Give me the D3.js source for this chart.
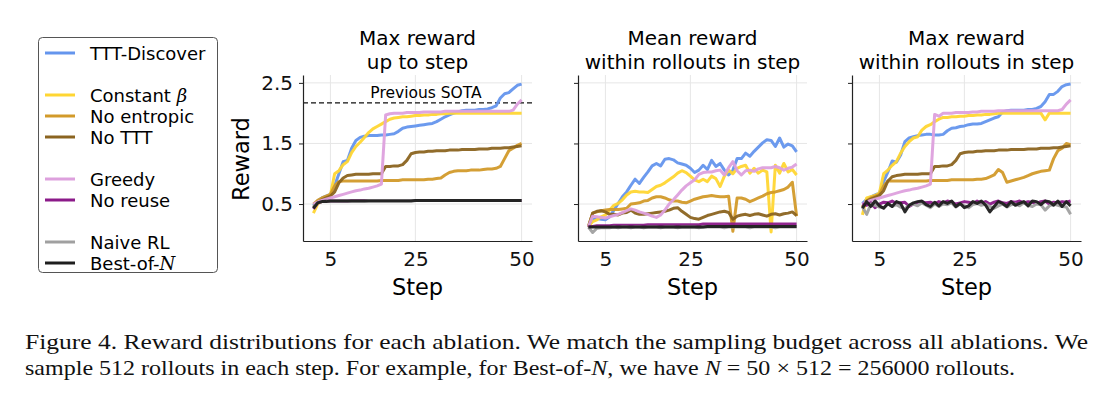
<!DOCTYPE html>
<html>
<head>
<meta charset="utf-8">
<script src="https://cdn.jsdelivr.net/npm/d3@7"></script>
<style>
  body { margin: 0; background: #fff; }
  svg { display: block; }
  .tick text { font-family: "DejaVu Sans", sans-serif; }
</style>
</head>
<body>
<div id="content"></div>
<script>
// steps and tick labels
var steps = d3.range(1, 51);
var xTicks = [5, 25, 50];
var yTicks = [0.5, 1.5, 2.5];
var panelTitles = [["Max reward", "up to step"], ["Mean reward", "within rollouts in step"], ["Max reward", "within rollouts in step"]];
var sotaValue = 2.17;

// --- panel 1: max reward up to step
var cumTTT = [0.47,0.55,0.6,0.63,0.66,0.8,1.0,1.2,1.22,1.42, 1.55,1.6,1.62,1.63,1.63,1.63,1.64,1.64,1.65,1.66, 1.7,1.75,1.77,1.78,1.79,1.8,1.81,1.82,1.83,1.86, 1.9,1.94,1.97,2.0,2.02,2.04,2.05,2.05,2.05,2.06, 2.06,2.07,2.09,2.12,2.25,2.32,2.34,2.4,2.46,2.48];
var cumConst = [0.35,0.5,0.55,0.6,0.65,1.0,1.05,1.15,1.2,1.35, 1.45,1.52,1.6,1.68,1.74,1.78,1.82,1.86,1.9,1.92, 1.93,1.94,1.94,1.95,1.96,1.96,1.97,1.97,1.98,1.98, 1.99,1.99,2.0,2.0,2.0,2.0,2.0,2.0,2.0,2.0, 2.0,2.0,2.0,2.0,2.0,2.0,2.0,2.0,2.0,2.0];
var cumNoEnt = [0.5,0.56,0.6,0.63,0.66,0.8,0.87,0.88,0.88,0.88, 0.88,0.88,0.88,0.88,0.88,0.88,0.89,0.89,0.89,0.89, 0.89,0.9,0.9,0.9,0.9,0.9,0.9,0.91,0.91,0.92, 0.93,0.98,1.02,1.04,1.05,1.05,1.05,1.06,1.06,1.06, 1.07,1.08,1.08,1.09,1.12,1.25,1.38,1.42,1.47,1.5];
var cumNoTTT = [0.45,0.52,0.57,0.6,0.63,0.7,0.85,0.93,0.97,0.98, 0.99,0.99,0.99,0.99,1.0,1.0,1.0,1.12,1.12,1.13, 1.13,1.15,1.22,1.33,1.35,1.36,1.36,1.37,1.37,1.38, 1.38,1.38,1.39,1.39,1.39,1.4,1.4,1.4,1.4,1.41, 1.41,1.41,1.42,1.42,1.42,1.43,1.43,1.44,1.45,1.46];
var cumGreedy = [0.5,0.53,0.56,0.58,0.6,0.62,0.64,0.66,0.68,0.7, 0.72,0.73,0.75,0.76,0.78,0.8,0.83,1.97,1.99,2.0, 2.0,2.0,2.01,2.01,2.01,2.01,2.02,2.02,2.02,2.02, 2.02,2.03,2.03,2.03,2.03,2.03,2.03,2.03,2.03,2.03, 2.03,2.03,2.03,2.03,2.03,2.03,2.03,2.05,2.15,2.22];
var cumNoReuse = [0.42,0.52,0.54,0.55,0.55,0.55,0.55,0.55,0.55,0.56, 0.56,0.56,0.56,0.56,0.56,0.56,0.56,0.56,0.56,0.56, 0.56,0.56,0.56,0.56,0.56,0.56,0.56,0.56,0.56,0.56, 0.56,0.56,0.56,0.56,0.56,0.56,0.56,0.56,0.56,0.56, 0.56,0.56,0.56,0.56,0.56,0.56,0.56,0.56,0.56,0.56];
var cumNaive = [0.44,0.52,0.54,0.55,0.55,0.55,0.55,0.55,0.55,0.55, 0.55,0.55,0.55,0.56,0.56,0.56,0.56,0.56,0.56,0.56, 0.56,0.56,0.56,0.56,0.56,0.56,0.56,0.56,0.56,0.56, 0.56,0.56,0.56,0.56,0.56,0.56,0.56,0.56,0.56,0.56, 0.56,0.56,0.56,0.56,0.56,0.56,0.56,0.56,0.56,0.56];
var cumBest = [0.43,0.52,0.54,0.54,0.55,0.55,0.55,0.55,0.55,0.55, 0.55,0.55,0.55,0.55,0.55,0.55,0.55,0.55,0.55,0.55, 0.55,0.55,0.55,0.55,0.56,0.56,0.56,0.56,0.56,0.56, 0.56,0.56,0.56,0.56,0.56,0.56,0.56,0.56,0.56,0.56, 0.56,0.56,0.56,0.56,0.56,0.56,0.56,0.56,0.56,0.56];

// --- panel 2: mean reward within rollouts in step
var meanTTT = [0.125,0.24,0.26,0.25,0.24,0.29,0.40,0.51,0.62,0.70, 0.81,0.91,0.84,0.94,1.03,1.13,1.17,1.13,1.24,1.25, 1.23,1.18,1.16,1.14,1.09,1.02,1.06,1.14,1.07,1.22, 1.12,1.17,1.06,0.98,1.06,1.25,1.25,1.34,1.29,1.37, 1.44,1.51,1.56,1.55,1.45,1.59,1.44,1.49,1.46,1.36];
var meanConst = [0.125,0.21,0.24,0.29,0.32,0.40,0.48,0.51,0.57,0.65, 0.70,0.71,0.70,0.70,0.69,0.74,0.79,0.81,0.85,0.90, 0.95,1.01,1.05,1.02,0.96,0.90,0.87,0.91,0.87,0.96, 0.92,0.79,0.96,1.06,1.0,1.09,1.12,1.14,1.01,1.09, 1.01,1.06,1.03,0.04,1.14,1.01,1.17,1.03,1.07,0.98];
var meanNoEnt = [0.125,0.35,0.37,0.39,0.4,0.41,0.41,0.41,0.42,0.43, 0.5,0.51,0.52,0.55,0.56,0.6,0.62,0.62,0.6,0.57, 0.55,0.55,0.53,0.52,0.55,0.58,0.6,0.62,0.63,0.64, 0.63,0.62,0.62,0.63,0.05,0.6,0.6,0.58,0.54,0.57, 0.6,0.63,0.67,0.69,0.7,0.72,0.74,0.78,0.86,0.3];
var meanNoTTT = [0.125,0.35,0.38,0.39,0.37,0.33,0.33,0.32,0.35,0.36, 0.4,0.35,0.33,0.33,0.34,0.35,0.36,0.37,0.38,0.4, 0.43,0.44,0.38,0.33,0.28,0.26,0.25,0.28,0.31,0.33, 0.35,0.37,0.38,0.36,0.25,0.3,0.32,0.33,0.31,0.33, 0.34,0.32,0.3,0.33,0.34,0.32,0.34,0.35,0.37,0.31];
var meanGreedy = [0.125,0.3,0.29,0.28,0.27,0.29,0.31,0.33,0.36,0.39, 0.42,0.4,0.37,0.35,0.33,0.3,0.28,0.32,0.4,0.5, 0.57,0.65,0.73,0.8,0.85,0.9,0.99,1.02,1.03,1.03, 1.05,1.06,0.98,1.1,1.2,1.05,0.98,1.05,1.06,1.04, 1.08,1.1,1.1,1.1,1.12,1.1,1.06,1.09,1.11,1.16];
var meanNoReuse = [0.12,0.13,0.14,0.14,0.14,0.14,0.15,0.15,0.15,0.15, 0.15,0.15,0.15,0.15,0.16,0.16,0.16,0.16,0.16,0.16, 0.16,0.16,0.16,0.16,0.16,0.16,0.16,0.17,0.17,0.17, 0.17,0.17,0.17,0.17,0.17,0.17,0.17,0.17,0.17,0.17, 0.17,0.17,0.17,0.17,0.17,0.17,0.17,0.17,0.17,0.17];
var meanNaive = [0.12,0.03,0.1,0.11,0.11,0.11,0.12,0.11,0.12,0.12, 0.11,0.12,0.12,0.11,0.12,0.12,0.12,0.11,0.12,0.12, 0.12,0.11,0.12,0.12,0.12,0.12,0.11,0.12,0.12,0.12, 0.12,0.12,0.11,0.12,0.12,0.12,0.12,0.12,0.11,0.12, 0.12,0.12,0.12,0.12,0.11,0.12,0.12,0.12,0.12,0.12];
var meanBest = [0.12,0.12,0.12,0.12,0.12,0.12,0.12,0.12,0.12,0.12, 0.12,0.12,0.12,0.12,0.12,0.12,0.12,0.12,0.12,0.12, 0.12,0.12,0.12,0.12,0.12,0.12,0.12,0.12,0.13,0.13, 0.13,0.13,0.13,0.13,0.13,0.13,0.13,0.13,0.13,0.13, 0.13,0.13,0.13,0.13,0.13,0.13,0.13,0.13,0.13,0.13];

// --- panel 3: max reward within rollouts in step
var stepTTT = [0.51,0.58,0.62,0.65,0.68,0.87,1.03,1.21,1.19,1.31, 1.53,1.59,1.61,1.63,1.64,1.65,1.65,1.64,1.64,1.65, 1.71,1.75,1.76,1.78,1.79,1.81,1.82,1.82,1.83,1.86, 1.89,1.92,1.94,2.02,2.04,2.05,2.05,2.05,2.05,2.06, 2.06,2.08,2.11,2.19,2.31,2.31,2.36,2.44,2.47,2.48];
var stepConst = [0.32,0.6,0.62,0.64,0.68,1.0,1.06,1.14,1.2,1.34, 1.45,1.53,1.59,1.61,1.72,1.78,1.81,1.86,1.9,1.93, 1.93,1.94,1.94,1.95,1.95,1.96,1.96,1.97,1.97,1.98, 1.98,1.99,2.0,2.0,2.0,2.0,2.0,2.0,2.0,2.0, 2.0,2.0,2.0,1.89,2.0,2.0,2.0,2.0,2.0,2.0];
var stepNoEnt = [0.45,0.55,0.6,0.63,0.66,0.8,0.88,0.88,0.88,0.88, 0.88,0.88,0.88,0.88,0.88,0.88,0.89,0.89,0.89,0.89, 0.89,0.9,0.9,0.9,0.9,0.9,0.9,0.91,0.91,0.92, 0.95,0.98,1.07,1.02,0.86,0.88,0.9,0.92,0.94,0.97, 1.0,1.02,1.04,1.05,1.06,1.25,1.38,1.42,1.5,1.48];
var stepNoTTT = [0.45,0.55,0.58,0.61,0.64,0.72,0.88,0.95,0.97,0.98, 0.99,0.99,0.99,0.99,1.0,1.0,1.0,1.12,1.12,1.13, 1.13,1.15,1.22,1.33,1.35,1.36,1.36,1.37,1.37,1.38, 1.38,1.38,1.39,1.39,1.39,1.4,1.4,1.4,1.4,1.41, 1.41,1.41,1.42,1.42,1.42,1.43,1.43,1.44,1.45,1.46];
var stepGreedy = [0.5,0.53,0.56,0.58,0.6,0.62,0.64,0.66,0.68,0.7, 0.72,0.73,0.75,0.76,0.78,0.8,0.83,1.98,1.95,2.0, 2.0,2.0,2.01,2.01,2.01,2.01,2.02,2.02,2.03,2.03, 2.03,2.03,2.04,2.04,2.04,2.04,2.04,2.04,2.04,2.04, 2.04,2.04,2.04,2.04,2.04,2.04,2.04,2.06,2.15,2.22];
var stepNoReuse = [0.5,0.48,0.52,0.44,0.5,0.53,0.52,0.55,0.51,0.52, 0.53,0.46,0.5,0.53,0.54,0.52,0.53,0.5,0.54,0.52, 0.55,0.53,0.5,0.52,0.54,0.53,0.51,0.55,0.52,0.54, 0.5,0.53,0.55,0.52,0.51,0.54,0.53,0.55,0.52,0.54, 0.53,0.51,0.54,0.55,0.5,0.53,0.52,0.54,0.53,0.55];
var stepNaive = [0.45,0.33,0.5,0.48,0.45,0.44,0.5,0.46,0.49,0.45, 0.42,0.48,0.5,0.47,0.52,0.48,0.44,0.5,0.46,0.5, 0.49,0.52,0.45,0.5,0.47,0.44,0.49,0.51,0.48,0.5, 0.46,0.43,0.47,0.5,0.45,0.49,0.5,0.47,0.52,0.48, 0.46,0.5,0.49,0.4,0.47,0.5,0.48,0.46,0.45,0.33];
var stepBest = [0.43,0.54,0.46,0.55,0.47,0.43,0.51,0.46,0.54,0.51, 0.37,0.48,0.52,0.54,0.55,0.49,0.46,0.53,0.47,0.54, 0.51,0.55,0.46,0.51,0.44,0.47,0.54,0.51,0.55,0.48, 0.37,0.46,0.54,0.51,0.46,0.54,0.48,0.51,0.54,0.47, 0.55,0.54,0.49,0.55,0.54,0.48,0.55,0.46,0.54,0.47];

// legend rows (null = spacer)
var legendNames = ["TTT-Discover", null, "Constant β", "No entropic", "No TTT", null, "Greedy", "No reuse", null, "Naive RL", "Best-of-N"];
var colors = {
  "TTT-Discover": "#6495ed",
  "Constant β": "#ffd633",
  "No entropic": "#d29a2a",
  "No TTT": "#8b6420",
  "Greedy": "#dda0dd",
  "No reuse": "#8b1a89",
  "Naive RL": "#a0a0a0",
  "Best-of-N": "#1e1e1e"
};

var panels = [
  {"TTT-Discover": cumTTT, "Constant β": cumConst, "No entropic": cumNoEnt, "No TTT": cumNoTTT, "Greedy": cumGreedy, "No reuse": cumNoReuse, "Naive RL": cumNaive, "Best-of-N": cumBest},
  {"TTT-Discover": meanTTT, "Constant β": meanConst, "No entropic": meanNoEnt, "No TTT": meanNoTTT, "Greedy": meanGreedy, "No reuse": meanNoReuse, "Naive RL": meanNaive, "Best-of-N": meanBest},
  {"TTT-Discover": stepTTT, "Constant β": stepConst, "No entropic": stepNoEnt, "No TTT": stepNoTTT, "Greedy": stepGreedy, "No reuse": stepNoReuse, "Naive RL": stepNaive, "Best-of-N": stepBest}
];
var drawOrder = ["TTT-Discover", "Constant β", "No entropic", "No TTT", "Greedy", "No reuse", "Naive RL", "Best-of-N"];

var W = 1103, H = 398;
var svg = d3.select("#content").append("svg")
  .attr("width", W)
  .attr("height", H);

var font = "DejaVu Sans, sans-serif";
var panelLeft = [303, 578, 852],
  panelW = 229,
  plotTop = 75,
  plotBottom = 241;

var y = d3.scaleLinear().domain([-0.11, 2.63]).range([plotBottom, plotTop]);

var line = function(x) {
  return d3.line()
    .x(function(d, i) { return x(steps[i]); })
    .y(function(d) { return y(d); });
};

panels.forEach(function(pdata, p) {
  var x = d3.scaleLinear().domain([-1.45, 52.45]).range([panelLeft[p], panelLeft[p] + panelW]);
  var g = svg.append("g");

  // grid
  g.selectAll(".vg").data(xTicks).enter().append("line")
    .attr("x1", function(d) { return x(d); }).attr("x2", function(d) { return x(d); })
    .attr("y1", plotTop).attr("y2", plotBottom)
    .attr("stroke", "#e6e6e6").attr("stroke-width", 1);
  g.selectAll(".hg").data(yTicks).enter().append("line")
    .attr("x1", x.range()[0]).attr("x2", x.range()[1])
    .attr("y1", function(d) { return y(d); }).attr("y2", function(d) { return y(d); })
    .attr("stroke", "#e6e6e6").attr("stroke-width", 1);

  // previous SOTA
  if (p === 0) {
    g.append("line")
      .attr("x1", x.range()[0]).attr("x2", x.range()[1])
      .attr("y1", y(sotaValue)).attr("y2", y(sotaValue))
      .attr("stroke", "#111").attr("stroke-width", 1.3)
      .attr("stroke-dasharray", "5,3");
    g.append("text")
      .attr("x", x(27.5)).attr("y", y(sotaValue) - 5)
      .attr("text-anchor", "middle")
      .style("font-family", font).style("font-size", "15.5px")
      .text("Previous SOTA");
  }

  // lines
  drawOrder.forEach(function(name) {
    g.append("path")
      .datum(pdata[name])
      .attr("fill", "none")
      .attr("stroke", colors[name])
      .attr("stroke-width", 3)
      .attr("stroke-opacity", 0.95)
      .attr("stroke-linejoin", "round")
      .attr("d", line(x));
  });

  // axes
  var xAxis = g.append("g")
    .attr("transform", "translate(0," + plotBottom + ")")
    .call(d3.axisBottom(x).tickValues(xTicks).tickSize(0).tickPadding(11));
  xAxis.select(".domain").attr("stroke", "#222").attr("stroke-width", 1.2);
  xAxis.selectAll("text").style("font-size", "20px").attr("fill", "#111");

  var yAxis = g.append("g")
    .attr("transform", "translate(" + panelLeft[p] + ",0)")
    .call(d3.axisLeft(y).tickValues(yTicks).tickSize(4).tickPadding(6).tickSizeOuter(0)
      .tickFormat(p === 0 ? d3.format(".1f") : ""));
  yAxis.select(".domain").attr("stroke", "#222").attr("stroke-width", 1.2);
  yAxis.selectAll(".tick line").attr("stroke", "#222");
  yAxis.selectAll("text").style("font-size", "20px").attr("fill", "#111");

  // titles
  var cx = panelLeft[p] + panelW / 2;
  panelTitles[p].forEach(function(t, k) {
    g.append("text")
      .attr("x", cx).attr("y", 45 + k * 24)
      .attr("text-anchor", "middle")
      .style("font-family", font).style("font-size", "20px")
      .text(t);
  });

  g.append("text")
    .attr("x", cx).attr("y", 295)
    .attr("text-anchor", "middle")
    .style("font-family", font).style("font-size", "22.5px")
    .text("Step");
});

// y label
svg.append("text")
  .attr("transform", "translate(249,159) rotate(-90)")
  .attr("text-anchor", "middle")
  .style("font-family", font).style("font-size", "22.5px")
  .text("Reward");

// legend
var leg = svg.append("g");
leg.append("rect")
  .attr("x", 38.5).attr("y", 37.5)
  .attr("width", 179).attr("height", 235)
  .attr("rx", 4)
  .attr("fill", "#fff").attr("stroke", "#555").attr("stroke-width", 1);

legendNames.forEach(function(name, i) {
  if (!name) return;
  var ly = 53 + i * 21;
  leg.append("line")
    .attr("x1", 45).attr("x2", 75)
    .attr("y1", ly).attr("y2", ly)
    .attr("stroke", colors[name]).attr("stroke-width", 3);
  var t = leg.append("text")
    .attr("x", 90).attr("y", ly + 6.5)
    .style("font-family", font).style("font-size", "18px");
  if (name === "Constant β") {
    t.append("tspan").text("Constant ");
    t.append("tspan").style("font-family", "DejaVu Serif, serif").style("font-style", "italic").text("β");
  } else if (name === "Best-of-N") {
    t.append("tspan").text("Best-of-");
    t.append("tspan").style("font-family", "DejaVu Serif, serif").style("font-style", "italic").text("N");
  } else {
    t.text(name);
  }
});

// caption
var cap = svg.append("g")
  .style("font-family", "Liberation Serif, serif")
  .style("font-size", "21px")
  .attr("fill", "#111");
cap.append("text")
  .attr("x", 25).attr("y", 349)
  .attr("textLength", 1063).attr("lengthAdjust", "spacingAndGlyphs")
  .text("Figure 4.  Reward distributions for each ablation.  We match the sampling budget across all ablations.  We");
var c2 = cap.append("text")
  .attr("x", 25).attr("y", 375)
  .attr("textLength", 990).attr("lengthAdjust", "spacingAndGlyphs");
c2.append("tspan").text("sample 512 rollouts in each step.  For example, for Best-of-");
c2.append("tspan").style("font-style", "italic").text("N");
c2.append("tspan").text(", we have ");
c2.append("tspan").style("font-style", "italic").text("N");
c2.append("tspan").text(" = 50 × 512 = 256000 rollouts.");
</script>
</body>
</html>
